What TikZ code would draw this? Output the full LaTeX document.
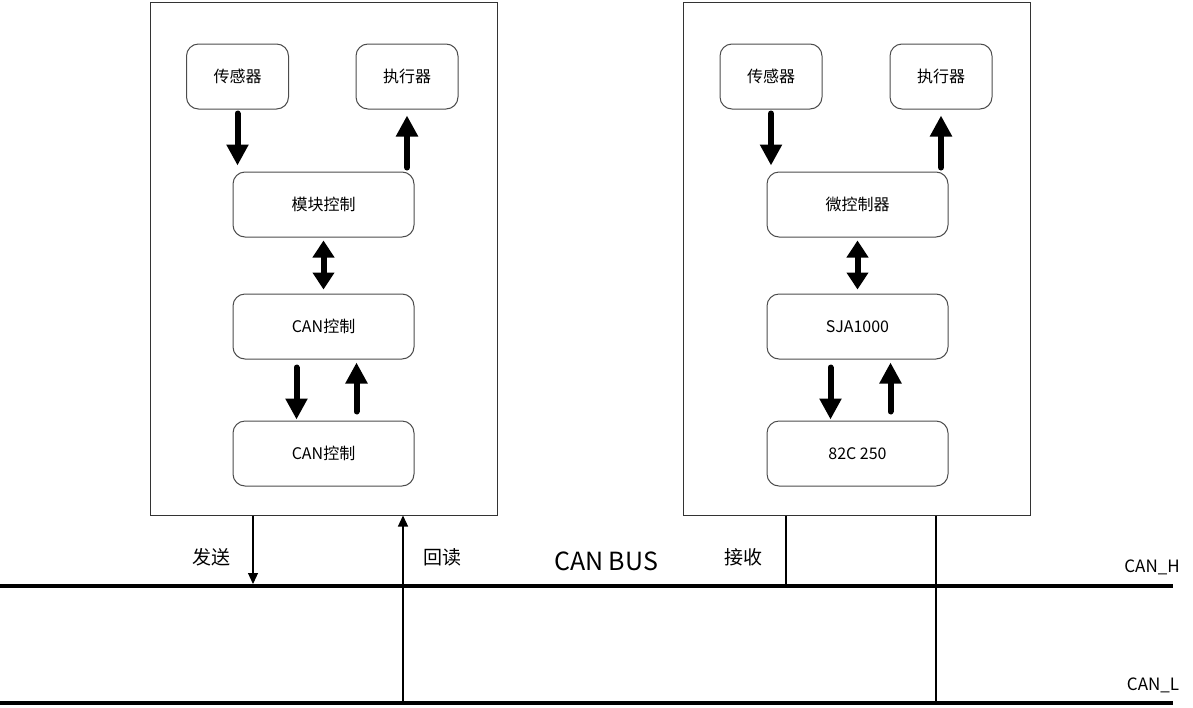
\documentclass[tikz,border=0pt]{standalone}
\usepackage{fontspec}
\setmainfont{Noto Sans CJK SC}
\usetikzlibrary{arrows.meta}

\tikzset{
  outerbox/.style={draw=black!80, line width=1pt, minimum width=347pt, minimum height=513pt},
  unit/.style={draw=black!70, line width=1pt, rounded corners=12pt, minimum height=65pt,
    font=\fontsize{16}{18}\selectfont},
  smallunit/.style={unit, minimum width=102pt},
  wideunit/.style={unit, minimum width=181pt},
  bigarrow/.style={line width=6pt, line cap=round, -{Triangle[width=21pt,length=21pt]}},
  bigdouble/.style={line width=6pt, {Triangle[width=21pt,length=17pt]}-{Triangle[width=21pt,length=17pt]}},
  busline/.style={line width=4.5pt},
  tapline/.style={line width=1.2pt},
  tapdown/.style={tapline, -{Triangle[width=10pt,length=11pt]}},
  buslabel/.style={font=\fontsize{19}{21}\selectfont},
}

\begin{document}
\begin{tikzpicture}[x=1pt, y=-1pt]
  \useasboundingbox (0,0) rectangle (1193,707);

  % outer boxes
  \node[outerbox] (outL) at (323.5,258.5) {};
  \node[outerbox] (outR) at (857,258.5) {};

  % left node
  \node[smallunit] (sensL) at (237.5,76.5) {传感器};
  \node[smallunit] (actL)  at (407,76.5)   {执行器};
  \node[wideunit]  (modL)  at (323.5,204.5) {模块控制};
  \node[wideunit]  (canA)  at (323.5,326.5) {CAN控制};
  \node[wideunit]  (canB)  at (323.5,453.5) {CAN控制};

  % right node
  \node[smallunit] (sensR) at (771,76.5)  {传感器};
  \node[smallunit] (actR)  at (941,76.5)  {执行器};
  \node[wideunit]  (mcuR)  at (857.5,204.5) {微控制器};
  \node[wideunit]  (sjaR)  at (857.5,326.5) {SJA1000};
  \node[wideunit]  (trxR)  at (857.5,453.5) {82C 250};

  % thick arrows
  \draw[bigarrow, shorten <=4pt, shorten >=6pt] (sensL.south) -- (sensL.south |- modL.north);
  \draw[bigarrow, shorten <=4pt, shorten >=6pt] (actL.south |- modL.north) -- (actL.south);
  \draw[bigdouble, shorten <=3pt, shorten >=4pt] (modL.south) -- (canA.north);
  \draw[bigarrow, shorten <=8pt, shorten >=1pt] ([xshift=-27pt]canA.south) -- ([xshift=-27pt]canB.north);
  \draw[bigarrow, shorten <=9pt, shorten >=3pt] ([xshift=33pt]canB.north) -- ([xshift=33pt]canA.south);

  \draw[bigarrow, shorten <=4pt, shorten >=6pt] (sensR.south) -- (sensR.south |- mcuR.north);
  \draw[bigarrow, shorten <=4pt, shorten >=6pt] (actR.south |- mcuR.north) -- (actR.south);
  \draw[bigdouble, shorten <=3pt, shorten >=4pt] (mcuR.south) -- (sjaR.north);
  \draw[bigarrow, shorten <=8pt, shorten >=1pt] ([xshift=-27pt]sjaR.south) -- ([xshift=-27pt]trxR.north);
  \draw[bigarrow, shorten <=9pt, shorten >=3pt] ([xshift=33pt]trxR.north) -- ([xshift=33pt]sjaR.south);

  % bus
  \coordinate (hA) at (0,586);
  \coordinate (hB) at (1173,586);
  \coordinate (lA) at (0,703);
  \coordinate (lB) at (1173,703);
  \draw[busline] (hA) -- (hB);
  \draw[busline] (lA) -- (lB);

  % taps
  \draw[tapdown, shorten >=2pt] ([xshift=-70.5pt]outL.south) -- ([xshift=-70.5pt]outL.south |- hA);
  \draw[tapdown] ([xshift=79.5pt]outL.south |- lA) -- ([xshift=79.5pt]outL.south);
  \draw[tapline] ([xshift=-71pt]outR.south) -- ([xshift=-71pt]outR.south |- hA);
  \draw[tapline] ([xshift=79pt]outR.south) -- ([xshift=79pt]outR.south |- lA);

  % labels
  \node[buslabel] (sendT) at (211,557) {发送};
  \node[buslabel] (readT) at (442,557) {回读};
  \node[buslabel] (recvT) at (743,557) {接收};
  \node[font=\fontsize{25}{27}\selectfont] (busT) at (606,561) {CAN BUS};
  \node[font=\fontsize{17}{19}\selectfont] (canH) at (1152,567) {CAN\_H};
  \node[font=\fontsize{17}{19}\selectfont] (canL) at (1153,685) {CAN\_L};
\end{tikzpicture}
\end{document}
